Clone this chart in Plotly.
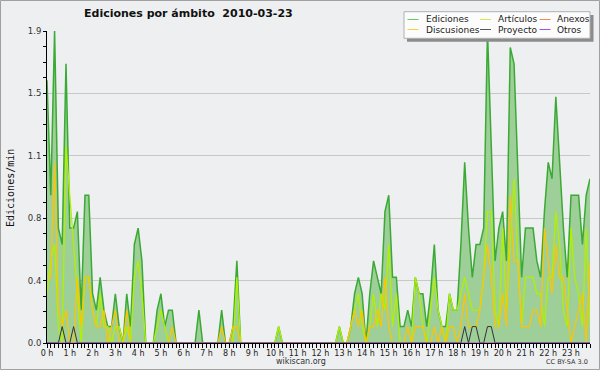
import plotly.graph_objects as go

# ---------------- data (10-minute bins, 144 per day) ----------------
ediciones = [
    1.6, 0.9, 1.9, 0.7, 0.6, 1.7, 0.7, 0.7, 0.8, 0.2, 0.9, 0.9,
    0.3, 0.2, 0.4, 0.2, 0.1, 0.1, 0.3, 0.1, 0.0, 0.3, 0.1, 0.6,
    0.7, 0.5, 0.0, 0.0, 0.0, 0.2, 0.3, 0.1, 0.2, 0.2, 0.0, 0.0,
    0.0, 0.0, 0.0, 0.0, 0.2, 0.0, 0.0, 0.0, 0.0, 0.0, 0.2, 0.0,
    0.0, 0.1, 0.5, 0.0, 0.0, 0.0, 0.0, 0.0, 0.0, 0.0, 0.0, 0.0,
    0.0, 0.1, 0.0, 0.0, 0.0, 0.0, 0.0, 0.0, 0.0, 0.0, 0.0, 0.0,
    0.0, 0.0, 0.0, 0.0, 0.0, 0.1, 0.0, 0.0, 0.1, 0.3, 0.4, 0.3,
    0.0, 0.3, 0.5, 0.4, 0.3, 0.8, 0.9, 0.4, 0.4, 0.1, 0.1, 0.2,
    0.1, 0.4, 0.3, 0.3, 0.1, 0.3, 0.6, 0.2, 0.1, 0.1, 0.3, 0.2,
    0.2, 0.6, 1.1, 0.7, 0.4, 0.6, 0.6, 0.7, 1.9, 1.2, 0.5, 0.7,
    0.8, 0.5, 1.8, 1.7, 1.1, 0.4, 0.7, 0.7, 0.7, 0.5, 0.4, 0.8,
    1.1, 1.0, 1.5, 1.1, 0.7, 0.4, 0.9, 0.9, 0.9, 0.6, 0.9, 1.0,
]
articulos = [
    0.3, 0.5, 0.6, 0.1, 0.0, 1.2, 0.9, 0.6, 0.3, 0.0, 0.4, 0.4,
    0.2, 0.1, 0.3, 0.1, 0.1, 0.0, 0.1, 0.1, 0.0, 0.1, 0.0, 0.4,
    0.5, 0.3, 0.0, 0.0, 0.0, 0.1, 0.2, 0.1, 0.0, 0.0, 0.0, 0.0,
    0.0, 0.0, 0.0, 0.0, 0.0, 0.0, 0.0, 0.0, 0.0, 0.0, 0.0, 0.0,
    0.0, 0.0, 0.4, 0.0, 0.0, 0.0, 0.0, 0.0, 0.0, 0.0, 0.0, 0.0,
    0.0, 0.1, 0.0, 0.0, 0.0, 0.0, 0.0, 0.0, 0.0, 0.0, 0.0, 0.0,
    0.0, 0.0, 0.0, 0.0, 0.0, 0.1, 0.0, 0.0, 0.1, 0.2, 0.3, 0.1,
    0.0, 0.1, 0.3, 0.1, 0.3, 0.2, 0.6, 0.1, 0.3, 0.0, 0.0, 0.0,
    0.0, 0.4, 0.3, 0.1, 0.0, 0.2, 0.4, 0.2, 0.1, 0.0, 0.3, 0.2,
    0.2, 0.3, 0.4, 0.3, 0.2, 0.2, 0.2, 0.4, 0.8, 0.8, 0.2, 0.1,
    0.7, 0.2, 0.6, 1.0, 0.5, 0.1, 0.4, 0.4, 0.4, 0.3, 0.3, 0.1,
    0.4, 0.4, 0.8, 0.6, 0.2, 0.1, 0.7, 0.4, 0.3, 0.1, 0.7, 0.1,
]
anexos = [
    0, 0, 0, 0, 0, 0, 0, 0, 0, 0, 0, 0,
    0, 0, 0, 0, 0, 0, 0, 0, 0, 0, 0, 0,
    0, 0, 0, 0, 0, 0, 0, 0, 0, 0, 0, 0,
    0, 0, 0, 0, 0, 0, 0, 0, 0, 0, 0, 0,
    0, 0, 0, 0, 0, 0, 0, 0, 0, 0, 0, 0,
    0, 0, 0, 0, 0, 0, 0, 0, 0, 0, 0, 0,
    0, 0, 0, 0, 0, 0, 0, 0, 0, 0, 0, 0,
    0, 0, 0, 0, 0, 0, 0, 0, 0, 0, 0, 0,
    0, 0, 0, 0, 0, 0, 0, 0, 0, 0, 0, 0,
    0, 0, 0, 0, 0, 0, 0, 0, 0, 0, 0, 0,
    0, 0, 0, 0, 0, 0, 0, 0, 0, 0, 0, 0,
    0, 0, 0, 0, 0, 0, 0, 0, 0, 0, 0, 0,
]
discusiones = [
    0.4, 0.4, 1.1, 0.2, 0.1, 0.2, 0.0, 0.0, 0.4, 0.1, 0.4, 0.4,
    0.2, 0.1, 0.1, 0.2, 0.0, 0.1, 0.2, 0.0, 0.0, 0.2, 0.0, 0.0,
    0.0, 0.0, 0.0, 0.0, 0.0, 0.0, 0.0, 0.0, 0.0, 0.1, 0.0, 0.0,
    0.0, 0.0, 0.0, 0.0, 0.0, 0.0, 0.0, 0.0, 0.0, 0.0, 0.1, 0.0,
    0.0, 0.1, 0.1, 0.0, 0.0, 0.0, 0.0, 0.0, 0.0, 0.0, 0.0, 0.0,
    0.0, 0.0, 0.0, 0.0, 0.0, 0.0, 0.0, 0.0, 0.0, 0.0, 0.0, 0.0,
    0.0, 0.0, 0.0, 0.0, 0.0, 0.0, 0.0, 0.0, 0.1, 0.2, 0.1, 0.2,
    0.0, 0.1, 0.1, 0.2, 0.1, 0.4, 0.1, 0.0, 0.0, 0.0, 0.0, 0.1,
    0.0, 0.1, 0.1, 0.1, 0.0, 0.0, 0.1, 0.0, 0.1, 0.0, 0.1, 0.1,
    0.0, 0.1, 0.3, 0.1, 0.1, 0.1, 0.2, 0.4, 0.6, 0.4, 0.1, 0.1,
    0.3, 0.1, 0.9, 0.5, 0.5, 0.1, 0.1, 0.1, 0.2, 0.2, 0.1, 0.7,
    0.5, 0.3, 0.6, 0.4, 0.4, 0.2, 0.0, 0.1, 0.2, 0.3, 0.0, 0.5,
]
proyecto = [
    0, 0, 0, 0, 0.1, 0, 0, 0.1, 0, 0, 0, 0,
    0, 0, 0, 0, 0, 0, 0, 0, 0, 0, 0, 0,
    0, 0, 0, 0, 0, 0, 0, 0, 0, 0, 0, 0,
    0, 0, 0, 0, 0, 0, 0, 0, 0, 0, 0, 0,
    0, 0, 0, 0, 0, 0, 0, 0, 0, 0, 0, 0,
    0, 0, 0, 0, 0, 0, 0, 0, 0, 0, 0, 0,
    0, 0, 0, 0, 0, 0, 0, 0, 0, 0, 0, 0,
    0, 0, 0, 0, 0, 0, 0, 0, 0, 0, 0, 0,
    0, 0, 0, 0, 0, 0, 0, 0, 0, 0, 0, 0,
    0, 0, 0.1, 0, 0.1, 0.1, 0, 0, 0.1, 0.1, 0, 0,
    0, 0, 0, 0, 0, 0, 0, 0, 0, 0, 0, 0,
    0, 0, 0, 0, 0, 0, 0, 0, 0, 0, 0, 0,
]
otros = [
    0, 0, 0, 0, 0, 0, 0, 0, 0, 0, 0, 0,
    0, 0, 0, 0, 0, 0, 0, 0, 0, 0, 0, 0,
    0, 0, 0, 0, 0, 0, 0, 0, 0, 0, 0, 0,
    0, 0, 0, 0, 0, 0, 0, 0, 0, 0, 0, 0,
    0, 0, 0, 0, 0, 0, 0, 0, 0, 0, 0, 0,
    0, 0, 0, 0, 0, 0, 0, 0, 0, 0, 0, 0,
    0, 0, 0, 0, 0, 0, 0, 0, 0, 0, 0, 0,
    0, 0, 0, 0, 0, 0, 0, 0, 0, 0, 0, 0,
    0, 0, 0, 0, 0, 0, 0, 0, 0, 0, 0, 0,
    0, 0, 0, 0, 0, 0, 0, 0, 0, 0, 0, 0,
    0, 0, 0, 0, 0, 0, 0, 0, 0, 0, 0, 0,
    0, 0, 0, 0, 0, 0, 0, 0, 0, 0, 0, 0,
]
hour_labels = ["0 h", "1 h", "2 h", "3 h", "4 h", "5 h", "6 h", "7 h", "8 h",
               "9 h", "10 h", "11 h", "12 h", "13 h", "14 h", "15 h", "16 h",
               "17 h", "18 h", "19 h", "20 h", "21 h", "22 h", "23 h"]
y_tick_values = [0.0, 0.38, 0.76, 1.14, 1.52, 1.9]
y_tick_labels = ["0.0", "0.4", "0.8", "1.1", "1.5", "1.9"]
title_text = "Ediciones por ámbito\u00a0\u00a02010-03-23"

# ---------------- layout geometry ----------------
W, H = 600, 370
ML, MR, MT, MB = 47, 10, 31, 27
PW, PH = W - ML - MR, H - MT - MB


def px(x):
    return (x - ML) / PW


def py(y):
    return (MT + PH - y) / PH


xs = list(range(len(ediciones)))
FONT = "DejaVu Sans"

C_ED_LINE = "#3aaa35"
C_ED_FILL = "#9ecf99"
C_ART = "#b0f000"
C_DISC = "#ffc400"
C_ANEX = "#ff7f50"
C_PROY = "#333333"
C_OTR = "#9955ee"

fig = go.Figure()
fig.add_trace(go.Scatter(x=xs, y=ediciones, mode="lines", name="Ediciones",
                         fill="tozeroy", fillcolor=C_ED_FILL,
                         line=dict(color=C_ED_LINE, width=1.5), showlegend=False))
fig.add_trace(go.Scatter(x=xs, y=articulos, mode="lines", name="Artículos",
                         line=dict(color=C_ART, width=1.3), showlegend=False))
fig.add_trace(go.Scatter(x=xs, y=anexos, mode="lines", name="Anexos",
                         line=dict(color=C_ANEX, width=1), showlegend=False))
fig.add_trace(go.Scatter(x=xs, y=discusiones, mode="lines", name="Discusiones",
                         line=dict(color=C_DISC, width=1.2), showlegend=False))
fig.add_trace(go.Scatter(x=xs, y=proyecto, mode="lines", name="Proyecto",
                         line=dict(color=C_PROY, width=1), showlegend=False))
fig.add_trace(go.Scatter(x=xs, y=otros, mode="lines", name="Otros",
                         line=dict(color=C_OTR, width=1), showlegend=False))

shapes = []
annotations = []

# figure frame
shapes.append(dict(type="rect", xref="paper", yref="paper",
                   x0=px(0.5), x1=px(W - 0.5), y0=py(0.5), y1=py(H - 0.5),
                   line=dict(color="#a0a0a0", width=1), layer="above"))

# legend box with shadow
shapes.append(dict(type="rect", xref="paper", yref="paper",
                   x0=px(407), x1=px(593.5), y0=py(15), y1=py(41.7),
                   line=dict(width=0), fillcolor="#8c8c8c", layer="above"))
shapes.append(dict(type="rect", xref="paper", yref="paper",
                   x0=px(404), x1=px(590), y0=py(11.7), y1=py(38.3),
                   line=dict(color="#b0b0b0", width=1), fillcolor="#fcfcfc",
                   layer="above"))
legend_items = [
    ("Ediciones", "#66cc66", 0, 0), ("Artículos", "#ccee55", 1, 0),
    ("Anexos", "#f08a5a", 2, 0), ("Discusiones", "#f8d040", 0, 1),
    ("Proyecto", "#555555", 1, 1), ("Otros", "#9955ee", 2, 1),
]
col_sym = [(407.5, 418.5), (480, 491), (539.5, 550.5)]
col_txt = [423.5, 496, 554.5]
row_y = [19.5, 29.5]
for name, col, c, r in legend_items:
    shapes.append(dict(type="line", xref="paper", yref="paper",
                       x0=px(col_sym[c][0]), x1=px(col_sym[c][1]),
                       y0=py(row_y[r]), y1=py(row_y[r]),
                       line=dict(color=col, width=1), layer="above"))
    annotations.append(dict(text=name, xref="paper", yref="paper",
                            x=px(col_txt[c]), y=py(row_y[r]),
                            xanchor="left", yanchor="middle", showarrow=False,
                            font=dict(family=FONT, size=9, color="#222222")))

# title
annotations.append(dict(text=title_text, xref="paper", yref="paper",
                        x=px(188.5), y=py(14), xanchor="center", yanchor="middle",
                        showarrow=False,
                        font=dict(family=FONT, size=11, color="#111111", weight="bold")))
# y-axis title
annotations.append(dict(text="Ediciones/min", xref="paper", yref="paper",
                        x=px(10), y=py(188), xanchor="center", yanchor="middle",
                        textangle=-90, showarrow=False,
                        font=dict(family="DejaVu Sans Mono", size=10, color="#111111")))
# footer texts
annotations.append(dict(text="wikiscan.org", xref="paper", yref="paper",
                        x=px(300.5), y=py(361), xanchor="center", yanchor="middle",
                        showarrow=False, font=dict(family=FONT, size=8, color="#333333")))
annotations.append(dict(text="CC BY-SA 3.0", xref="paper", yref="paper",
                        x=px(590), y=py(362), xanchor="right", yanchor="middle",
                        showarrow=False, font=dict(family=FONT, size=6.5, color="#333333")))

fig.update_layout(
    width=W, height=H,
    margin=dict(l=ML, r=MR, t=MT, b=MB, pad=0),
    paper_bgcolor="#eeeff0",
    plot_bgcolor="#eeeff0",
    showlegend=False,
    hovermode=False,
    shapes=shapes,
    annotations=annotations,
    xaxis=dict(
        range=[0, len(ediciones) - 1],
        tickmode="array", tickvals=[6 * i for i in range(len(hour_labels))],
        ticktext=hour_labels,
        ticks="outside", ticklen=4, tickcolor="#000000", tickwidth=1,
        minor=dict(dtick=1, tick0=0, ticks="outside", ticklen=4,
                   tickcolor="#000000", tickwidth=1, showgrid=False),
        showgrid=False, zeroline=False,
        showline=True, linecolor="#000000", linewidth=1,
        tickfont=dict(family=FONT, size=8, color="#222222"),
        ticklabelstandoff=-2,
    ),
    yaxis=dict(
        range=[0, 1.9],
        tickmode="array", tickvals=y_tick_values, ticktext=y_tick_labels,
        ticks="outside", ticklen=3, tickcolor="#000000", tickwidth=1,
        minor=dict(dtick=0.095, tick0=0, ticks="outside", ticklen=3,
                   tickcolor="#000000", tickwidth=1, showgrid=False),
        showgrid=True, gridcolor="#c8c8c8", gridwidth=1,
        zeroline=False,
        showline=True, linecolor="#000000", linewidth=1,
        tickfont=dict(family=FONT, size=8.5, color="#333333"),
    ),
)

fig.write_html("out.html",
               config={"displayModeBar": False, "staticPlot": True},
               post_script="document.body.style.margin='0';"
                           "document.body.style.overflow='hidden';")
